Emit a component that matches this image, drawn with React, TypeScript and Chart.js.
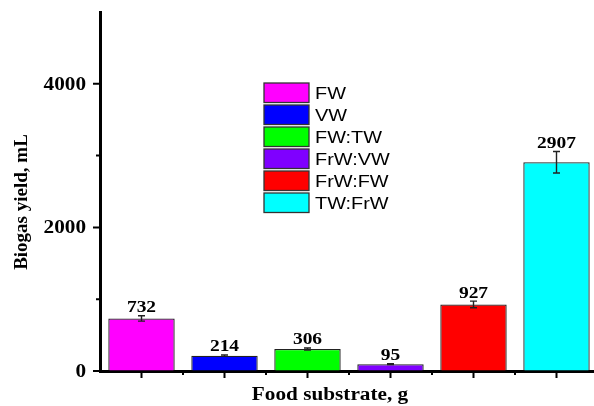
import React, { useEffect, useRef } from 'react';
import { Chart, registerables } from 'chart.js';

Chart.register(...registerables);

const categories = ['FW', 'VW', 'FW:TW', 'FrW:VW', 'FrW:FW', 'TW:FrW'];
const yields = [732, 214, 306, 95, 927, 2907];
const errors = [37, 10, 15, 6, 46, 150];
const colors = ['#FF00FF', '#0000FF', '#00FF00', '#7F00FF', '#FF0000', '#00FFFF'];
const yMajorTicks = [0, 2000, 4000];
const yMinorTicks = [1000, 3000];
const xTitle = 'Food substrate, g';
const yTitle = 'Biogas yield, mL';

const SERIF = "'Liberation Serif', 'Times New Roman', serif";
const SANS = "'Liberation Sans', Arial, sans-serif";
const SX = 1.18;

function stretchText(ctx: CanvasRenderingContext2D, text: string, x: number, y: number, align: CanvasTextAlign, baseline: CanvasTextBaseline, font: string, sx: number) {
  ctx.save();
  ctx.font = font;
  ctx.fillStyle = '#000';
  ctx.textAlign = align;
  ctx.textBaseline = baseline;
  ctx.translate(x, y);
  ctx.scale(sx, 1);
  ctx.fillText(text, 0, 0);
  ctx.restore();
}

const overlayPlugin = {
  id: 'overlay',
  afterDraw(chart: any) {
    const ctx: CanvasRenderingContext2D = chart.ctx;
    const xs = chart.scales.x;
    const ys = chart.scales.y;
    const area = chart.chartArea;
    const meta = chart.getDatasetMeta(0);

    // error bars and value labels
    ctx.save();
    meta.data.forEach((bar: any, i: number) => {
      const cx = bar.x;
      const top = ys.getPixelForValue(yields[i] + errors[i]);
      const bot = ys.getPixelForValue(yields[i] - errors[i]);
      ctx.strokeStyle = '#222';
      ctx.lineWidth = 1.4;
      ctx.beginPath();
      ctx.moveTo(cx, top); ctx.lineTo(cx, bot);
      ctx.moveTo(cx - 3.5, top); ctx.lineTo(cx + 3.5, top);
      ctx.moveTo(cx - 3.5, bot); ctx.lineTo(cx + 3.5, bot);
      ctx.stroke();
      stretchText(ctx, String(yields[i]), cx, top - 3.5, 'center', 'alphabetic', `bold 16.5px ${SERIF}`, SX);
    });
    ctx.restore();

    // axis ticks
    ctx.save();
    ctx.strokeStyle = '#000';
    ctx.lineWidth = 2;
    ctx.beginPath();
    const centers = meta.data.map((b: any) => b.x);
    centers.forEach((c: number) => { ctx.moveTo(c, area.bottom); ctx.lineTo(c, area.bottom + 7); });
    for (let i = 0; i < centers.length - 1; i++) {
      const m = (centers[i] + centers[i + 1]) / 2;
      ctx.moveTo(m, area.bottom); ctx.lineTo(m, area.bottom + 4);
    }
    yMajorTicks.forEach((v) => { const p = ys.getPixelForValue(v); ctx.moveTo(area.left, p); ctx.lineTo(area.left - 7, p); });
    yMinorTicks.forEach((v) => { const p = ys.getPixelForValue(v); ctx.moveTo(area.left, p); ctx.lineTo(area.left - 4, p); });
    ctx.stroke();
    ctx.restore();

    // y tick labels
    yMajorTicks.forEach((v) => {
      stretchText(ctx, String(v), area.left - 14, ys.getPixelForValue(v) + 6, 'right', 'alphabetic', `bold 18px ${SERIF}`, SX);
    });

    // axis titles
    stretchText(ctx, xTitle, 330, 400, 'center', 'alphabetic', `bold 18px ${SERIF}`, SX);
    ctx.save();
    ctx.font = `bold 19px ${SERIF}`;
    ctx.fillStyle = '#000';
    ctx.textAlign = 'center';
    ctx.textBaseline = 'alphabetic';
    ctx.translate(27, 202);
    ctx.rotate(-Math.PI / 2);
    ctx.fillText(yTitle, 0, 0);
    ctx.restore();

    // legend
    categories.forEach((name, i) => {
      const y0 = 83 + 22 * i;
      ctx.save();
      ctx.fillStyle = colors[i];
      ctx.fillRect(264, y0, 45, 19.5);
      ctx.strokeStyle = '#333';
      ctx.lineWidth = 1.3;
      ctx.strokeRect(264, y0, 45, 19.5);
      ctx.restore();
      stretchText(ctx, name, 315, y0 + 16, 'left', 'alphabetic', `17px ${SANS}`, 1.17);
    });
  },
};

export default function App() {
  const ref = useRef<HTMLCanvasElement | null>(null);
  useEffect(() => {
    if (!ref.current) return;
    const chart = new Chart(ref.current, {
      type: 'bar',
      data: {
        labels: categories,
        datasets: [{
          data: yields,
          backgroundColor: colors,
          borderColor: '#222',
          borderWidth: 1.3,
          categoryPercentage: 1,
          barPercentage: 0.8,
        }],
      },
      options: {
        animation: false,
        responsive: false,
        events: [],
        layout: { padding: { top: 12, left: 0, right: 0, bottom: 0 } },
        plugins: { legend: { display: false }, tooltip: { enabled: false } },
        scales: {
          x: {
            z: 1,
            grid: { display: true, drawOnChartArea: false, drawTicks: false },
            border: { display: true, color: '#000', width: 3 },
            ticks: { display: false },
            afterFit: (s: any) => { s.height = 35; },
          },
          y: {
            z: 1,
            min: 0,
            max: 5000,
            grid: { display: true, drawOnChartArea: false, drawTicks: false },
            border: { display: true, color: '#000', width: 3 },
            ticks: { display: false, stepSize: 1000 },
            afterFit: (s: any) => { s.width = 100; },
          },
        },
      },
      plugins: [overlayPlugin],
    });
    return () => chart.destroy();
  }, []);
  return (
    <div style={{ position: 'fixed', left: 0, top: 0, width: 598, height: 406, background: '#fff' }}>
      <canvas ref={ref} width={598} height={406} style={{ width: 598, height: 406 }} />
    </div>
  );
}
